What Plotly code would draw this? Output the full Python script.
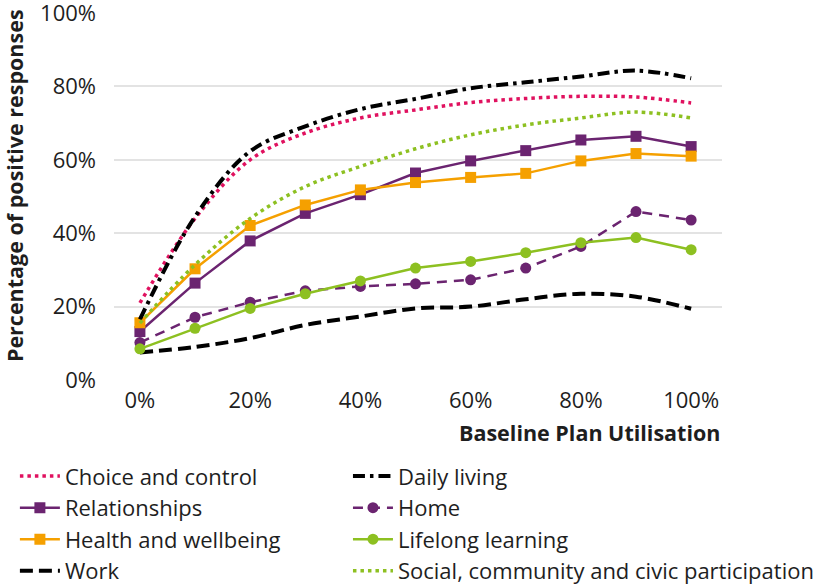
import plotly.graph_objects as go

# Baseline plan utilisation (%)
utilisation = [0, 10, 20, 30, 40, 50, 60, 70, 80, 90, 100]

# Percentage of positive responses per outcome domain
choice_and_control = [21.0, 44.0, 60.0, 67.3, 71.4, 73.6, 75.6, 76.7, 77.3, 77.1, 75.5]
daily_living = [16.5, 44.5, 62.3, 69.1, 73.8, 76.6, 79.5, 81.1, 82.7, 84.3, 82.2]
relationships = [13.2, 26.4, 37.9, 45.4, 50.5, 56.4, 59.7, 62.5, 65.4, 66.4, 63.6]
home = [10.2, 17.1, 21.2, 24.3, 25.5, 26.2, 27.3, 30.5, 36.4, 45.9, 43.6]
health_and_wellbeing = [15.6, 30.3, 42.1, 47.7, 51.8, 53.8, 55.2, 56.3, 59.7, 61.7, 61.0]
lifelong_learning = [8.5, 14.1, 19.5, 23.5, 27.0, 30.5, 32.3, 34.7, 37.4, 38.8, 35.5]
work = [7.5, 9.0, 11.4, 15.0, 17.3, 19.5, 20.0, 22.0, 23.5, 22.7, 19.4]
social_participation = [15.5, 31.4, 44.0, 52.7, 58.2, 63.0, 66.8, 69.5, 71.4, 73.0, 71.4]

tick_values = [0, 20, 40, 60, 80, 100]
tick_labels = ["0%", "20%", "40%", "60%", "80%", "100%"]

CRIMSON = "#E0115F"
PURPLE = "#6B2470"
ORANGE = "#F5A000"
GREEN = "#8DC021"
BLACK = "#000000"
TEXT = "#1E1E1E"

FONT = "Open Sans, Roboto, sans-serif"

fig = go.Figure()


def add_line(name, values, color, dash, shape, width, legend, symbol=None, size=0):
    mode = "lines+markers" if symbol else "lines"
    fig.add_trace(go.Scatter(
        x=utilisation, y=values, name=name, mode=mode,
        legend=legend, legendgroup=name,
        line=dict(color=color, dash=dash, shape=shape, width=width),
        marker=dict(symbol=symbol or "circle", size=size, color=color),
    ))


# Left legend column
add_line("Choice and control", choice_and_control, CRIMSON, "3.5px,4px", "spline", 3.5, "legend")
add_line("Relationships", relationships, PURPLE, "solid", "linear", 2.5, "legend", "square", 11)
add_line("Health and wellbeing", health_and_wellbeing, ORANGE, "solid", "linear", 2.5, "legend", "square", 11)
add_line("Work", work, BLACK, "13px,6px", "spline", 4, "legend")
# Right legend column
add_line("Daily living", daily_living, BLACK, "12px,5px,3.5px,5px", "spline", 4, "legend2")
add_line("Home", home, PURPLE, "10px,7px", "linear", 2.5, "legend2", "circle", 11)
add_line("Lifelong learning", lifelong_learning, GREEN, "solid", "linear", 2.5, "legend2", "circle", 11)
add_line("Social, community and civic participation", social_participation, GREEN, "3.5px,4px", "spline", 3.5, "legend2")

legend_style = dict(
    orientation="v", yanchor="top", xanchor="left", y=-0.205,
    font=dict(family=FONT, size=22, color=TEXT),
    itemwidth=40, traceorder="normal", tracegroupgap=4,
    bgcolor="rgba(0,0,0,0)",
)

fig.update_layout(
    width=831, height=584,
    margin=dict(l=114, r=109, t=13, b=204, autoexpand=False),
    paper_bgcolor="white", plot_bgcolor="white",
    font=dict(family=FONT, size=22, color=TEXT),
    showlegend=True,
    legend=dict(legend_style, x=-0.163),
    legend2=dict(legend_style, x=0.3848),
    xaxis=dict(
        range=[-4.7, 105.6], tickvals=tick_values, ticktext=tick_labels,
        showgrid=False, zeroline=False, showline=False, ticks="",
        ticklabelstandoff=5, ticklabeloverflow="allow",
        tickfont=dict(size=22, color=TEXT),
    ),
    yaxis=dict(
        range=[0, 100], tickvals=tick_values, ticktext=tick_labels,
        showgrid=True, gridcolor="#E3E3E3", gridwidth=1.5,
        zeroline=False, showline=False, ticks="",
        ticklabelstandoff=17, ticklabeloverflow="allow",
        tickfont=dict(size=22, color=TEXT),
    ),
    annotations=[
        dict(
            text="<b>Baseline Plan Utilisation</b>", xref="paper", yref="paper",
            x=1.0, y=-0.144, xanchor="right", yanchor="middle", showarrow=False,
            font=dict(family=FONT, size=21.5, color=TEXT),
        ),
        dict(
            text="<b>Percentage of positive responses</b>", xref="paper", yref="paper",
            x=-0.1645, y=0.531, xanchor="center", yanchor="middle", showarrow=False,
            textangle=-90, font=dict(family=FONT, size=21.5, color=TEXT),
        ),
    ],
)

fig.write_html("out.html")
